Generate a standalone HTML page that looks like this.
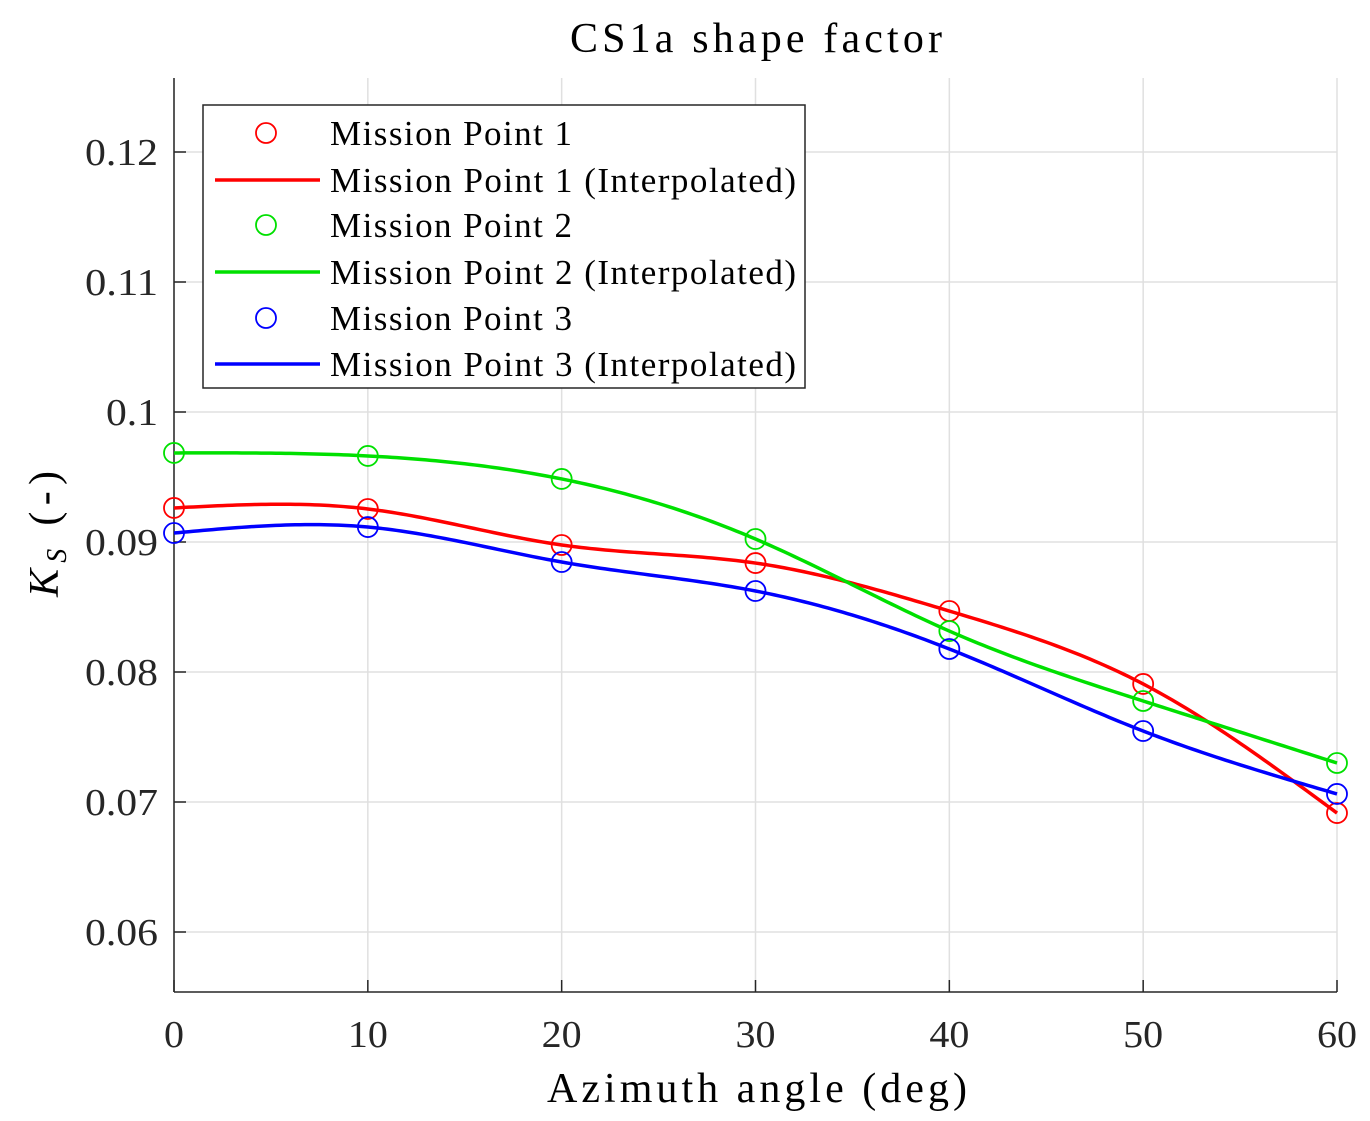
<!DOCTYPE html>
<html><head><meta charset="utf-8"><style>
html,body{margin:0;padding:0;background:#fff;}
svg{display:block;font-family:"Liberation Serif",serif;}
</style></head><body>
<svg id="chart" width="1370" height="1121">
<text x="756" y="52" font-size="42" text-anchor="middle" textLength="372" lengthAdjust="spacing">CS1a shape factor</text>
<g id="grid"></g>
<g id="axes"></g>
<g id="series"></g>
<text x="757" y="1102" font-size="42" text-anchor="middle" textLength="420" lengthAdjust="spacing">Azimuth angle (deg)</text>
<text transform="translate(58,534) rotate(-90)" font-size="42" text-anchor="middle" textLength="126" lengthAdjust="spacing"><tspan font-style="italic">K</tspan><tspan font-style="italic" font-size="28" dy="8">S</tspan><tspan dy="-8"> (-)</tspan></text>
<g id="legend"></g>
</svg>
<script>
const xValues=[0,10,20,30,40,50,60];
const mp1=[0.09262,0.09254,0.08977,0.08838,0.08469,0.07908,0.06915];
const mp2=[0.09685,0.09662,0.09485,0.09023,0.08315,0.07777,0.07300];
const mp3=[0.09069,0.09115,0.08846,0.08623,0.08177,0.07546,0.07062];
const xTicks=[0,10,20,30,40,50,60];
const yTicks=[0.06,0.07,0.08,0.09,0.10,0.11,0.12];
const yTickLabels=["0.06","0.07","0.08","0.09","0.1","0.11","0.12"];
const seriesNames=["Mission Point 1","Mission Point 2","Mission Point 3"];
const colors=["#ff0000","#00e000","#0000ff"];

const NS="http://www.w3.org/2000/svg";
const L=174,R=1337,T=78,B=992;
const xs=v=>L+(v-0)/60*(R-L);
const ys=v=>152+(0.12-v)*13000;
function mk(tag,attrs,parent){const e=document.createElementNS(NS,tag);for(const k in attrs)e.setAttribute(k,attrs[k]);parent.appendChild(e);return e;}
const grid=document.getElementById('grid'),axes=document.getElementById('axes'),ser=document.getElementById('series'),leg=document.getElementById('legend');

xTicks.forEach((t,i)=>{
  const g=mk('line',{x1:xs(t),x2:xs(t),y1:T,y2:B,stroke:'#e0e0e0','stroke-width':1.5},grid);
  
  
  const tk=mk('line',{x1:xs(t),x2:xs(t),y1:B,y2:B-12,stroke:'#262626','stroke-width':1.5},axes);
  
  
  const s=String(t);
  const lb=mk('text',{x:xs(t),y:1047,'font-size':38,'text-anchor':'middle',fill:'#262626',textLength:s.length*20,lengthAdjust:'spacingAndGlyphs'},axes);
  lb.textContent=s;
  
  
});
yTicks.forEach((t,i)=>{
  const g=mk('line',{x1:L,x2:R,y1:ys(t),y2:ys(t),stroke:'#e0e0e0','stroke-width':1.5},grid);
  
  
  const tk=mk('line',{x1:L,x2:L+12,y1:ys(t),y2:ys(t),stroke:'#262626','stroke-width':1.5},axes);
  
  
  const s=yTickLabels[i];
  const lb=mk('text',{x:158,y:ys(t)+13,'font-size':38,'text-anchor':'end',fill:'#262626',textLength:(s.length-1)*21+10,lengthAdjust:'spacingAndGlyphs'},axes);
  lb.textContent=s;
  
  
});
const xa=mk('line',{x1:L,x2:R,y1:B,y2:B,stroke:'#262626','stroke-width':1.5},axes);


const ya=mk('line',{x1:L,x2:L,y1:T,y2:B,stroke:'#262626','stroke-width':1.5},axes);



function spline(x,y){
  const n=x.length,h=[],a=[],l=[1],mu=[0],z=[0],c=new Array(n).fill(0),b=[],d=[];
  for(let i=0;i<n-1;i++)h.push(x[i+1]-x[i]);
  for(let i=1;i<n-1;i++)a[i]=3/h[i]*(y[i+1]-y[i])-3/h[i-1]*(y[i]-y[i-1]);
  for(let i=1;i<n-1;i++){l[i]=2*(x[i+1]-x[i-1])-h[i-1]*mu[i-1];mu[i]=h[i]/l[i];z[i]=(a[i]-h[i-1]*z[i-1])/l[i];}
  l[n-1]=1;z[n-1]=0;
  for(let j=n-2;j>=0;j--){c[j]=z[j]-mu[j]*c[j+1];b[j]=(y[j+1]-y[j])/h[j]-h[j]*(c[j+1]+2*c[j])/3;d[j]=(c[j+1]-c[j])/(3*h[j]);}
  return v=>{let i=x.findIndex((xx,k)=>k<n-1&&v<=x[k+1]);if(i<0)i=n-2;const t=v-x[i];return y[i]+b[i]*t+c[i]*t*t+d[i]*t*t*t;};
}
[mp1,mp2,mp3].forEach((data,si)=>{
  const f=spline(xValues,data);let d='';
  for(let v=0;v<=60.0001;v+=0.25)d+=(v===0?'M':'L')+xs(v).toFixed(2)+','+ys(f(v)).toFixed(2);
  const p=mk('path',{d:d,fill:'none',stroke:colors[si],'stroke-width':3.5},ser);
  
  
});
[mp1,mp2,mp3].forEach((data,si)=>{
  data.forEach((v,i)=>{
    const c=mk('circle',{cx:xs(xValues[i]),cy:ys(v),r:10,fill:'none',stroke:colors[si],'stroke-width':1.8},ser);
    
    
  });
});
const lb=mk('rect',{x:203,y:105,width:602,height:283,fill:'#fff',stroke:'#262626','stroke-width':1.5},leg);


const ly=[133,180,225,272,318,364];
seriesNames.forEach((nm,si)=>{
  const y1=ly[si*2],y2=ly[si*2+1];
  const c=mk('circle',{cx:266,cy:y1,r:10,fill:'none',stroke:colors[si],'stroke-width':1.8},leg);
  
  
  const t1=mk('text',{x:330,y:y1+12,'font-size':35,textLength:242,lengthAdjust:'spacing'},leg);t1.textContent=nm;
  
  
  const ln=mk('line',{x1:215,x2:320,y1:y2,y2:y2,stroke:colors[si],'stroke-width':3.5},leg);
  
  
  const t2=mk('text',{x:330,y:y2+12,'font-size':35,textLength:466,lengthAdjust:'spacing'},leg);t2.textContent=nm+' (Interpolated)';
  
  
});
</script>
</body></html>
